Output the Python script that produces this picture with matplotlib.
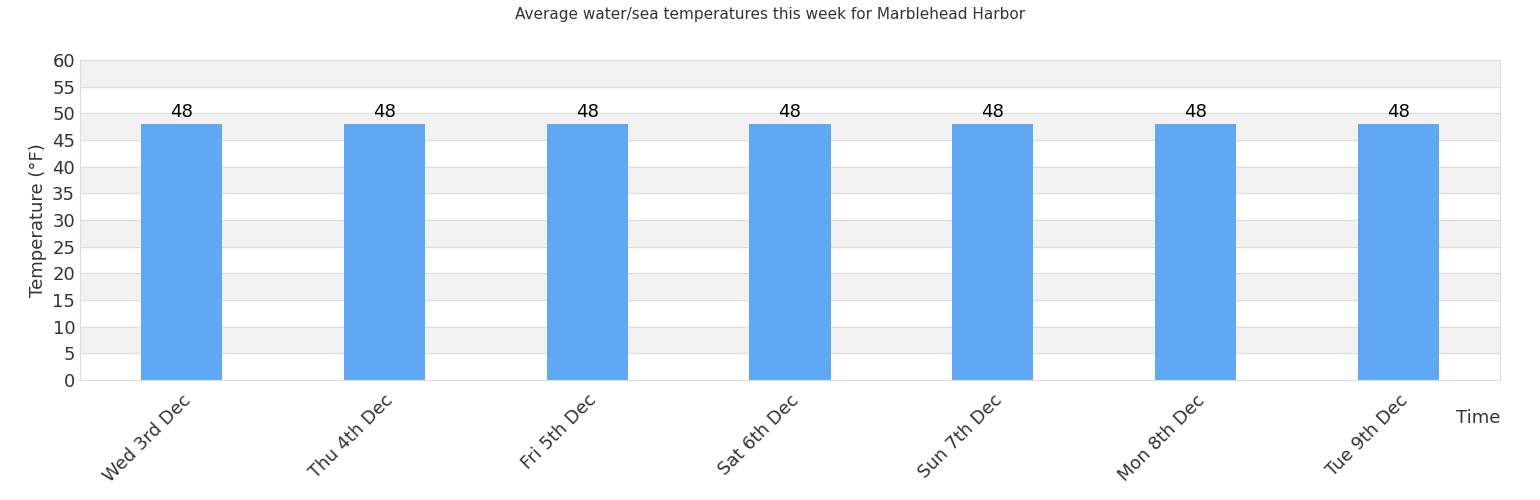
import matplotlib
matplotlib.use("Agg")
import matplotlib.pyplot as plt
plt.rcParams['font.family'] = ['DejaVu Sans']

days = ["Wed 3rd Dec", "Thu 4th Dec", "Fri 5th Dec", "Sat 6th Dec", "Sun 7th Dec", "Mon 8th Dec", "Tue 9th Dec"]
temps = [48, 48, 48, 48, 48, 48, 48]
yticks = list(range(0, 61, 5))

fig = plt.figure(figsize=(15.4, 5.0), dpi=100)
ax = fig.add_axes([80/1540, 120/500, 1420/1540, 320/500])
for i in range(0, 60, 10):
    ax.axhspan(i + 5, i + 10, color="#f2f2f2", zorder=0)
for y in yticks:
    ax.axhline(y, color="#dddddd", lw=0.8, zorder=0.5)
x = range(len(days))
ax.bar(x, temps, width=0.4, color="#60a8f4", zorder=2)
for xi, t in zip(x, temps):
    ax.text(xi, t + 0.5, str(t), ha="center", va="bottom", fontsize=13, zorder=3)
ax.set_xlim(-0.5, len(days) - 0.5)
ax.set_ylim(0, 60)
ax.set_yticks(yticks)
ax.set_xticks(list(x))
ax.set_xticklabels(days, rotation=45, ha="right", rotation_mode="anchor", fontsize=13, color="#333333")
ax.tick_params(axis="y", labelsize=13, length=0, labelcolor="#333333")
ax.tick_params(axis="x", length=0, pad=8)
for s in ax.spines.values():
    s.set_color("#dddddd")
ax.set_ylabel("Temperature (°F)", fontsize=13, color="#333333")
fig.text(1478/1540, 1 - 418/500, "Time", ha="center", va="center", fontsize=13, color="#333333")
fig.suptitle("Average water/sea temperatures this week for Marblehead Harbor", y=0.985, fontsize=11, color="#333333")
fig.savefig("out.png")
